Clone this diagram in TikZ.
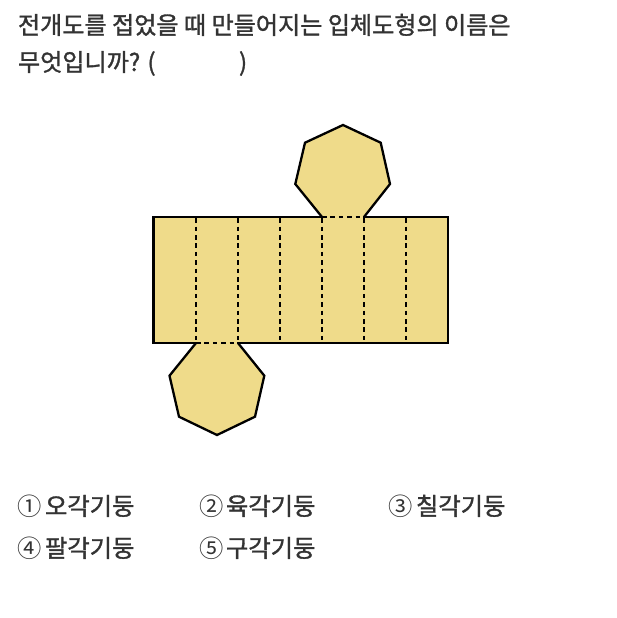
\documentclass[tikz,border=0pt]{standalone}
\usepackage{fontspec}
\newfontfamily\kr{Noto Sans CJK KR}[FakeBold=1.3]
\newfontfamily\krnum{Noto Sans CJK KR}
\definecolor{netfill}{HTML}{EFDB8A}
\definecolor{txt}{HTML}{333333}
\tikzset{
  txtnode/.style={inner sep=0pt,outer sep=0pt,anchor=base west,text=txt},
  title/.style={txtnode,font=\kr\fontsize{24.1}{24.1}\selectfont},
  opt/.style={txtnode,font=\kr\fontsize{24.3}{24.3}\selectfont},
  num/.style={txtnode,font=\krnum\fontsize{24.3}{24.3}\selectfont},
  solidface/.style={fill=netfill,draw=black,line width=2.3pt,line join=miter},
  fold/.style={draw=black,line width=1.6pt,dash pattern=on 4.6pt off 3.8pt}
}
\begin{document}
\begin{tikzpicture}[x=1pt,y=-1pt]
\useasboundingbox (0,0) rectangle (616,618);
\fill[white] (0,0) rectangle (616,618);
\node[title] (t1) at (18,34) {전개도를 접었을 때 만들어지는 입체도형의 이름은};
\node[title] (t2) at (18,71) {무엇입니까? (};
\node[title] (t3) at (239,71) {)};
\draw[solidface] (322,217) -- (295.3,184) -- (305,142.7) -- (343,125) -- (380.7,142.7) -- (390,184) -- (364,217);
\draw[solidface] (196,343) -- (169.5,375.7) -- (179,416.7) -- (217,435) -- (255,416.7) -- (264.3,375.7) -- (238,343);
\draw[solidface] (153.5,217) rectangle (448,343);
\foreach \x in {196,238,280,322,364,406} \draw[fold] (\x,218.2) -- (\x,341.8);
\draw[netfill,line width=2.5pt] (323.2,217) -- (362.8,217);
\draw[netfill,line width=2.5pt] (197.2,343) -- (236.8,343);
\draw[fold] (322,217) -- (364,217);
\draw[fold] (196,343) -- (238,343);
\node[num] (n1) at (17,515) {①};
\node[opt] (o1) at (45,515) {오각기둥};
\node[num] (n2) at (199,515) {②};
\node[opt] (o2) at (226,515) {육각기둥};
\node[num] (n3) at (388,515) {③};
\node[opt] (o3) at (416,515) {칠각기둥};
\node[num] (n4) at (17,557) {④};
\node[opt] (o4) at (45,557) {팔각기둥};
\node[num] (n5) at (199,557) {⑤};
\node[opt] (o5) at (226,557) {구각기둥};
\end{tikzpicture}
\end{document}
